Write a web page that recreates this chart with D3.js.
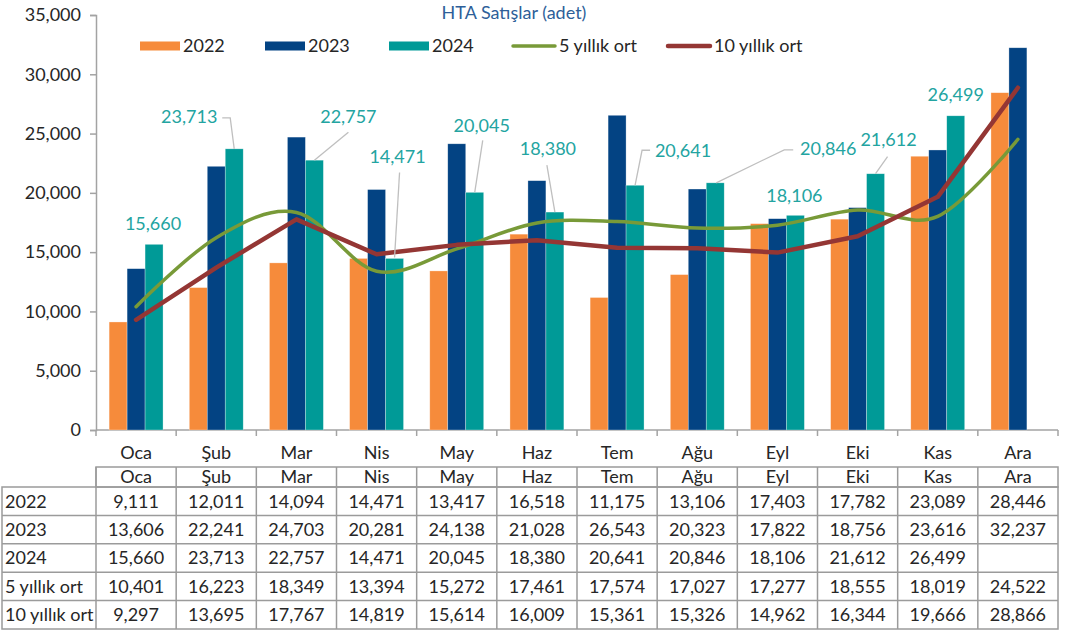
<!DOCTYPE html>
<html>
<head>
<meta charset="utf-8">
<script src="https://cdn.jsdelivr.net/npm/d3@7"></script>
<style>
  body { margin: 0; background: #fff; }
  text { font-family: "Lato", "Roboto", sans-serif; }
</style>
</head>
<body>
<div id="chart"></div>
<script>
var width = 1070;
var height = 632;

// chart values
var months = ["Oca", "Şub", "Mar", "Nis", "May", "Haz", "Tem", "Ağu", "Eyl", "Eki", "Kas", "Ara"];
var v2022 = [9111, 12011, 14094, 14471, 13417, 16518, 11175, 13106, 17403, 17782, 23089, 28446];
var v2023 = [13606, 22241, 24703, 20281, 24138, 21028, 26543, 20323, 17822, 18756, 23616, 32237];
var v2024 = [15660, 23713, 22757, 14471, 20045, 18380, 20641, 20846, 18106, 21612, 26499, null];
var avg5 = [10401, 16223, 18349, 13394, 15272, 17461, 17574, 17027, 17277, 18555, 18019, 24522];
var avg10 = [9297, 13695, 17767, 14819, 15614, 16009, 15361, 15326, 14962, 16344, 19666, 28866];
var yTicks = [0, 5000, 10000, 15000, 20000, 25000, 30000, 35000];
var barSeries = ["2022", "2023", "2024"];
var rowNames = ["2022", "2023", "2024", "5 yıllık ort", "10 yıllık ort"];

var colors = { "2022": "#f68b3b", "2023": "#034383", "2024": "#009a97" };
var green = "#789a38";
var red = "#943634";
var labelColor = "#23a4a1";
var axisColor = "#a3a3a3";
var textColor = "#262626";
var fmt = d3.format(",");

var svg = d3.select("#chart").append("svg")
	.attr("width", width)
	.attr("height", height);

// scales
var x = d3.scaleBand().domain(months).range([96, 1058]);
var xs = d3.scaleBand().domain(barSeries).range([0, x.bandwidth()]).paddingOuter(0.73);
var y = d3.scaleLinear().domain([0, 35000]).range([430, 15]);
var cx = d => x(d) + x.bandwidth() / 2;

// title
svg.append("text")
	.attr("x", 514).attr("y", 19)
	.attr("text-anchor", "middle")
	.style("font-size", "18px")
	.style("fill", "#2e5f99")
	.text("HTA Satışlar (adet)");

// y axis
var yAxis = d3.axisLeft(y).tickValues(yTicks).tickFormat(fmt).tickSize(6).tickPadding(9);
var gy = svg.append("g").attr("transform", "translate(96,0)").call(yAxis);
gy.attr("font-family", null);
gy.selectAll("path, line").attr("stroke", axisColor).attr("stroke-width", 1.5);
gy.selectAll("text").style("font-size", "18px").style("fill", textColor);

// x axis (ticks between categories, labels drawn separately)
var gx = svg.append("g").attr("transform", "translate(0,430)");
gx.append("line").attr("x1", 96).attr("x2", 1058).attr("stroke", axisColor).attr("stroke-width", 1.5);
gx.selectAll(".xt").data(months.concat(["end"])).enter().append("line")
	.attr("x1", (d, i) => 96 + i * x.step())
	.attr("x2", (d, i) => 96 + i * x.step())
	.attr("y1", 0).attr("y2", 6)
	.attr("stroke", axisColor).attr("stroke-width", 1.5);
gx.selectAll(".xl").data(months).enter().append("text")
	.attr("x", d => cx(d)).attr("y", 29)
	.attr("text-anchor", "middle")
	.style("font-size", "18px").style("fill", textColor)
	.text(d => d);

// bars
var barData = [];
months.forEach(function (m, i) {
	[v2022, v2023, v2024].forEach(function (arr, j) {
		if (arr[i] != null) barData.push({ m: m, s: barSeries[j], v: arr[i] });
	});
});
svg.append("g").selectAll("rect").data(barData).enter().append("rect")
	.attr("x", d => x(d.m) + xs(d.s))
	.attr("width", xs.bandwidth())
	.attr("y", d => y(d.v))
	.attr("height", d => y(0) - y(d.v))
	.attr("fill", d => colors[d.s])
	.attr("stroke", "rgba(255,255,255,0.5)")
	.attr("stroke-width", 0.6);

// lines
var line5 = d3.line().x((d, i) => cx(months[i])).y(d => y(d)).curve(d3.curveCatmullRom.alpha(0));
var line10 = d3.line().x((d, i) => cx(months[i])).y(d => y(d));
svg.append("path").attr("d", line5(avg5)).attr("fill", "none")
	.attr("stroke", green).attr("stroke-width", 3.5).attr("stroke-linecap", "round");
svg.append("path").attr("d", line10(avg10)).attr("fill", "none")
	.attr("stroke", red).attr("stroke-width", 4.5).attr("stroke-linecap", "round").attr("stroke-linejoin", "round");

// 2024 data labels: text offset from the bar top and leader line points
var labelLayout = [
	{ dx: -1, dy: -21, lead: null },
	{ dx: -45, dy: -32, lead: [[-12, -31], [-4, -31], [0, 0]] },
	{ dx: 34, dy: -43, lead: [[34, -28], [0, 0]] },
	{ dx: 3, dy: -102, lead: [[5, -86], [0, -1]] },
	{ dx: 7, dy: -67, lead: [[8, -52], [0, 0]] },
	{ dx: -7, dy: -63, lead: [[-8, -47], [0, 0]] },
	{ dx: 48, dy: -35, lead: [[15, -35], [7, -35], [0, 0]] },
	{ dx: 113, dy: -34, lead: [[78, -33], [69, -33], [1, 0]] },
	{ dx: -1, dy: -20, lead: null },
	{ dx: 13, dy: -34, lead: [[12, -17], [0, 0]] },
	{ dx: 0, dy: -21, lead: null }
];
var labels = svg.append("g");
labelLayout.forEach(function (lab, i) {
	var bx = x(months[i]) + xs("2024") + xs.bandwidth() / 2;
	var by = y(v2024[i]);
	if (lab.lead) {
		labels.append("path")
			.attr("d", d3.line()(lab.lead.map(p => [bx + p[0], by + p[1]])))
			.attr("fill", "none").attr("stroke", "#bfbfbf").attr("stroke-width", 1.3);
	}
	labels.append("text")
		.attr("x", bx + lab.dx).attr("y", by + lab.dy)
		.attr("dy", "0.35em")
		.attr("text-anchor", "middle")
		.style("font-size", "18px").style("fill", labelColor)
		.text(fmt(v2024[i]));
});

// legend
var legendItems = [
	{ name: "2022", type: "bar", c: colors["2022"], x: 140 },
	{ name: "2023", type: "bar", c: colors["2023"], x: 265 },
	{ name: "2024", type: "bar", c: colors["2024"], x: 389 },
	{ name: "5 yıllık ort", type: "line", c: green, x: 513 },
	{ name: "10 yıllık ort", type: "line", c: red, x: 668 }
];
var legend = svg.append("g").attr("transform", "translate(0,46)");
legendItems.forEach(function (it) {
	if (it.type == "bar") {
		legend.append("rect").attr("x", it.x).attr("y", -4.5).attr("width", 40).attr("height", 9).attr("fill", it.c);
	} else {
		legend.append("line").attr("x1", it.x).attr("x2", it.x + 42).attr("y1", 0).attr("y2", 0)
			.attr("stroke", it.c).attr("stroke-width", it.c == red ? 4.5 : 3.5).attr("stroke-linecap", "round");
	}
	legend.append("text")
		.attr("x", it.x + (it.type == "bar" ? 43 : 46)).attr("y", 0).attr("dy", "0.35em")
		.style("font-size", "18px").style("fill", textColor)
		.text(it.name);
});

// data table
var rowValues = [v2022, v2023, v2024, avg5, avg10];
var rowY = d3.scaleBand().domain(rowNames).range([487, 629]);
var tbl = svg.append("g");
var gridColor = "#9b9b9b";

// header row
tbl.append("rect").attr("x", 96).attr("y", 467).attr("width", 962).attr("height", 20)
	.attr("fill", "none").attr("stroke", gridColor).attr("stroke-width", 1.5);
tbl.selectAll(".hd").data(months).enter().append("text")
	.attr("x", d => cx(d)).attr("y", 477).attr("dy", "0.35em")
	.attr("text-anchor", "middle")
	.style("font-size", "18px").style("fill", textColor)
	.text(d => d);

// body outline and row lines
tbl.append("rect").attr("x", 2).attr("y", 487).attr("width", 1056).attr("height", 142)
	.attr("fill", "none").attr("stroke", gridColor).attr("stroke-width", 1.5);
tbl.selectAll(".rl").data(rowNames.slice(1)).enter().append("line")
	.attr("x1", 2).attr("x2", 1058)
	.attr("y1", d => rowY(d)).attr("y2", d => rowY(d))
	.attr("stroke", gridColor).attr("stroke-width", 1.5);
tbl.selectAll(".cl").data(months).enter().append("line")
	.attr("x1", d => x(d)).attr("x2", d => x(d))
	.attr("y1", 467).attr("y2", 629)
	.attr("stroke", gridColor).attr("stroke-width", 1.5);

rowNames.forEach(function (r, ri) {
	var ty = rowY(r) + rowY.bandwidth() / 2;
	tbl.append("text")
		.attr("x", 5).attr("y", ty).attr("dy", "0.35em")
		.style("font-size", "18px").style("fill", textColor)
		.text(r);
	tbl.append("g").selectAll("text").data(rowValues[ri]).enter().append("text")
		.attr("x", (d, i) => cx(months[i])).attr("y", ty).attr("dy", "0.35em")
		.attr("text-anchor", "middle")
		.style("font-size", "18px").style("fill", textColor)
		.text(d => d == null ? "" : fmt(d));
});
</script>
</body>
</html>
